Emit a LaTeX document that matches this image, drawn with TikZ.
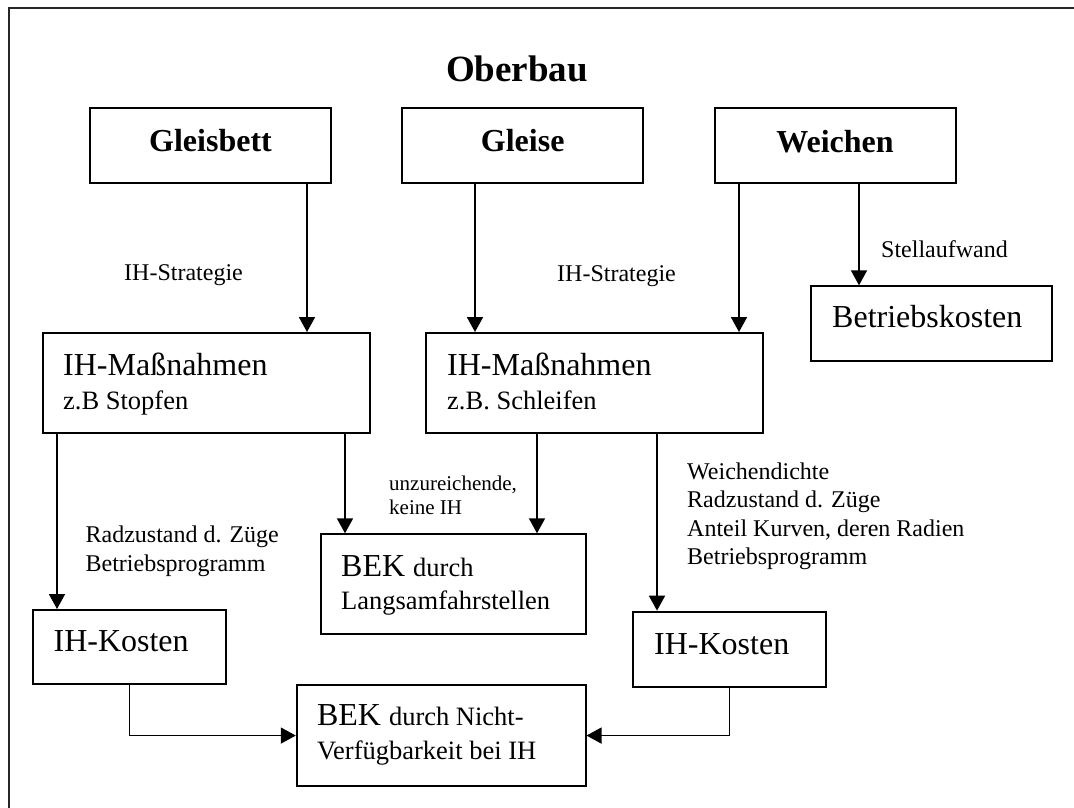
\documentclass[tikz,border=0pt]{standalone}
\usepackage{fontspec}
\setmainfont{Liberation Serif}
\usetikzlibrary{arrows.meta}
\newcommand\szTitle{\fontsize{37}{44}\selectfont\bfseries}
\newcommand\szHead{\fontsize{32}{38}\selectfont\bfseries}
\newcommand\szBig{\fontsize{32}{38}\selectfont}
\newcommand\szMid{\fontsize{26.5}{31}\selectfont}
\newcommand\szLab{\fontsize{24}{29}\selectfont}
\newcommand\szSmall{\fontsize{21}{24}\selectfont}
\begin{document}
\begin{tikzpicture}[x=1pt,y=-1pt,
  box/.style={draw, line width=2pt, inner sep=0pt},
  conn/.style={line width=1.8pt, -{Triangle[length=15pt,width=16pt]}},
  txt/.style={anchor=base west, inner sep=0pt},
  ctxt/.style={anchor=base, inner sep=0pt}]
\fill[white] (0,0) rectangle (1074,807);
\useasboundingbox (0,0) rectangle (1074,807);
% frame
\draw[line width=2pt, black!85] (8.6,808) -- (8.6,7.6) -- (1074,7.6);

% boxes
\node[box, minimum width=241pt, minimum height=75pt] (gleisbett) at (210.5,145.5) {};
\node[box, minimum width=241pt, minimum height=75pt] (gleise) at (522.5,145.5) {};
\node[box, minimum width=241pt, minimum height=75pt] (weichen) at (835,145.5) {};
\node[box, minimum width=326.8pt, minimum height=99.7pt] (ihm1) at (206.1,382.85) {};
\node[box, minimum width=336.7pt, minimum height=100pt] (ihm2) at (594.65,383) {};
\node[box, minimum width=241pt, minimum height=74.6pt] (bk) at (931,323.6) {};
\node[box, minimum width=192.6pt, minimum height=74.4pt] (ihk1) at (129.3,647.2) {};
\node[box, minimum width=264.5pt, minimum height=99.9pt] (bek1) at (453.25,584.25) {};
\node[box, minimum width=192.6pt, minimum height=75pt] (ihk2) at (729.3,649.15) {};
\node[box, minimum width=288.7pt, minimum height=100.9pt] (bek2) at (441.15,735.55) {};

% texts
\node[ctxt] (title) at (517,81) {\szTitle Oberbau};
\node[ctxt] (tgleisbett) at (210.5,151.5) {\szHead Gleisbett};
\node[ctxt] (tgleise) at (522.7,151.5) {\szHead Gleise};
\node[ctxt] (tweichen) at (835,152) {\szHead Weichen};
\node[txt] (lstrat1) at (124,280.5) {\szLab IH-Strategie};
\node[txt] (lstrat2) at (557,281) {\szLab IH-Strategie};
\node[txt] (lstell) at (881,257) {\szLab Stellaufwand};
\node[txt] (tbk) at (832,327) {\szBig Betriebskosten};
\node[txt] (tihm1a) at (63,375) {\szBig IH-Maßnahmen};
\node[txt] (tihm1b) at (63,409) {\szMid z.B Stopfen};
\node[txt] (tihm2a) at (447,375) {\szBig IH-Maßnahmen};
\node[txt] (tihm2b) at (447,409) {\szMid z.B. Schleifen};
\node[txt] (lrad1) at (85.4,542) {\szLab Radzustand d. Züge};
\node[txt] (lrad2) at (85.4,571) {\szLab Betriebsprogramm};
\node[txt] (lunz1) at (389,490) {\szSmall unzureichende,};
\node[txt] (lunz2) at (389,514.7) {\szSmall keine IH};
\node[txt] (tbek1a) at (341,576.3) {\szBig BEK \szMid durch};
\node[txt] (tbek1b) at (341,609) {\szMid Langsamfahrstellen};
\node[txt] (tihk1) at (53.4,651.4) {\szBig IH-Kosten};
\node[txt] (lw1) at (687,479) {\szLab Weichendichte};
\node[txt] (lw2) at (687,507.6) {\szLab Radzustand d. Züge};
\node[txt] (lw3) at (687,536) {\szLab Anteil Kurven, deren Radien};
\node[txt] (lw4) at (687,564.8) {\szLab Betriebsprogramm};
\node[txt] (tihk2) at (654,654) {\szBig IH-Kosten};
\node[txt] (tbek2a) at (316.8,725.4) {\szBig BEK \szMid durch Nicht-};
\node[txt] (tbek2b) at (316.8,759.8) {\szMid Verfügbarkeit bei IH};

% connector x positions
\coordinate (c1) at (307,0);
\coordinate (c2) at (475,0);
\coordinate (c3) at (739,0);
\coordinate (c4) at (859,0);
\coordinate (c5) at (57,0);
\coordinate (c6) at (345,0);
\coordinate (c7) at (537,0);
\coordinate (c8) at (657,0);

\draw[conn] (gleisbett.south -| c1) -- (ihm1.north -| c1);
\draw[conn] (gleise.south -| c2) -- (ihm2.north -| c2);
\draw[conn] (weichen.south -| c3) -- (ihm2.north -| c3);
\draw[conn] (weichen.south -| c4) -- (bk.north -| c4);
\draw[conn] (ihm1.south -| c5) -- (ihk1.north -| c5);
\draw[conn] (ihm1.south -| c6) -- (bek1.north -| c6);
\draw[conn] (ihm2.south -| c7) -- (bek1.north -| c7);
\draw[conn] (ihm2.south -| c8) -- (ihk2.north -| c8);
\draw[conn, line width=1.5pt] (ihk1.south) |- (bek2.west);
\draw[conn, line width=1.5pt] (ihk2.south) |- (bek2.east);
\end{tikzpicture}
\end{document}
